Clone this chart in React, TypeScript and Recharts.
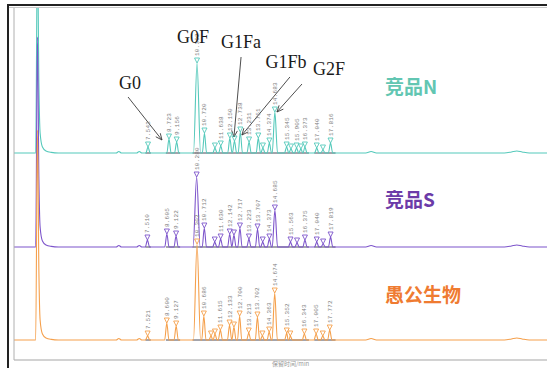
import React from 'react';
import { LineChart, Line, XAxis, YAxis, ReferenceLine, ReferenceDot } from 'recharts';

// retention times (min), peak heights above each trace's own baseline, printed labels
const nPeakT = [7.543, 8.723, 9.156, 10.302, 10.72, 11.31, 11.638, 12.15, 12.41, 12.738, 13.231, 13.751, 14.01, 14.374, 14.683, 15.345, 15.59, 15.905, 16.15, 16.373, 17.04, 17.39, 17.816];
const nPeakH = [6, 14, 11, 90, 20, 5, 7, 15, 12, 21, 11, 15, 5, 10, 41, 6, 4, 5, 4, 6, 5, 3, 10];
const nPeakL = ['7.543', '8.723', '9.156', '10.302', '10.720', '', '11.638', '12.150', '', '12.738', '13.231', '13.751', '', '14.374', '14.683', '15.345', '', '15.905', '', '16.373', '17.040', '', '17.816'];

const sPeakT = [7.51, 8.605, 9.122, 10.28, 10.712, 11.3, 11.63, 12.142, 12.38, 12.717, 13.223, 13.707, 14.0, 14.373, 14.685, 15.563, 15.93, 16.375, 17.04, 17.4, 17.819];
const sPeakH = [7, 13, 11, 70, 19, 5, 8, 13, 12, 19, 8, 18, 5, 8, 37, 5, 4, 7, 5, 3, 10];
const sPeakL = ['7.510', '8.605', '9.122', '10.280', '10.712', '', '11.630', '12.142', '', '12.717', '13.223', '13.707', '', '14.373', '14.685', '15.563', '', '16.375', '17.040', '', '17.819'];

const yPeakT = [7.521, 8.6, 9.127, 10.302, 10.686, 11.09, 11.31, 11.615, 12.133, 12.38, 12.7, 13.213, 13.702, 13.98, 14.363, 14.674, 15.352, 15.55, 16.343, 17.005, 17.38, 17.772];
const yPeakH = [4, 17, 14, 96, 24, 4, 6, 10, 15, 13, 24, 7, 23, 4, 8, 47, 7, 4, 6, 6, 4, 10];
const yPeakL = ['7.521', '8.600', '9.127', '10.302', '10.686', '', '', '11.615', '12.133', '', '12.700', '13.213', '13.702', '', '14.363', '14.674', '15.352', '', '16.343', '17.005', '', '17.772'];

// solvent front and small baseline bumps, shared by the three runs
const solventT = [1.22, 1.32, 1.4, 1.47, 1.6, 1.8, 2.1, 2.5];
const solventV = [0, 210, 70, 20, 6, 2, 0.6, 0];
const bumpT = [0, 5.75, 5.9, 6.05, 6.9, 7.05, 7.2, 19.8, 20.1, 20.4, 27.6, 28.0, 28.3, 28.6, 29.0, 30];
const bumpV = [0, 0, 1.5, 0, 0, 1.5, 0, 0, 1.5, 0, 0, 1, 2, 1, 0, 0];

// integration baselines drawn by the software
const integT = [[7.4, 7.7], [8.55, 9.35], [10.05, 16.6], [16.9, 18.1]];

const xTicks = [0, 1, 2, 3, 4, 5, 6, 7, 8, 9, 10, 11, 12, 13, 14, 15, 16, 17, 18, 19, 20, 21, 22, 23, 24, 25, 26, 27, 28, 29, 30];
const yTicks = [17, 38, 60, 81, 103, 124, 146, 167, 189, 210, 232, 253, 275, 296, 318, 339];

// stacking offsets of the three runs
const OFF_N = 207;
const OFF_S = 113;
const OFF_Y = 20;

const annoText = ['G0', 'G0F', 'G1Fa', 'G1Fb', 'G2F'];
const annoTextPos = [[6.53, 271], [10.07, 317], [12.78, 312], [15.31, 292], [17.73, 285]];
const arrowFrom = [[6.42, 263], [12.78, 303], [15.53, 283], [16.21, 276]];
const arrowTo = [[8.33, 220], [12.38, 223], [12.83, 225], [14.8, 248]];

const teal = '#55c9bb';
const purple = '#7d55cb';
const orange = '#f5a04c';

function buildTrace(peakT: number[], peakH: number[], peakL: string[], off: number) {
  const pts: any[] = [];
  solventT.forEach((t, i) => pts.push({ t, v: off + solventV[i] }));
  bumpT.forEach((t, i) => pts.push({ t, v: off + bumpV[i] }));
  peakT.forEach((t, i) => {
    const h = peakH[i];
    const hw = h > 60 ? 0.2 : h > 30 ? 0.15 : 0.12;
    pts.push({ t: t - hw, v: off });
    pts.push({ t, v: off + h, peak: true, label: peakL[i] });
    pts.push({ t: t + hw, v: off });
  });
  return pts.sort((a, b) => a.t - b.t);
}

const nData = buildTrace(nPeakT, nPeakH, nPeakL, OFF_N);
const sData = buildTrace(sPeakT, sPeakH, sPeakL, OFF_S);
const yData = buildTrace(yPeakT, yPeakH, yPeakL, OFF_Y);

const peakDot = (color: string) => (p: any) => {
  const { cx, cy, payload, index } = p;
  if (!payload || !payload.peak) return <g key={'d' + index} />;
  return (
    <g key={'d' + index}>
      <path d={`M${cx - 2.5},${cy - 5} L${cx + 2.5},${cy - 5} L${cx},${cy} Z`} fill="#fff" fillOpacity={0} stroke={color} strokeWidth={0.9} />
      {payload.label ? (
        <text transform={`translate(${cx + 2},${cy - 7}) rotate(-90)`} fontSize={6} fill="#808080" fontFamily="Liberation Mono, monospace" letterSpacing={0.2}>
          {payload.label}
        </text>
      ) : null}
    </g>
  );
};

const ArrowShape = (p: any) => {
  const { x1, y1, x2, y2 } = p;
  const a = Math.atan2(y2 - y1, x2 - x1);
  const L = 7;
  const s = 0.42;
  const ax = x2 - L * Math.cos(a - s);
  const ay = y2 - L * Math.sin(a - s);
  const bx = x2 - L * Math.cos(a + s);
  const by = y2 - L * Math.sin(a + s);
  return (
    <g>
      <line x1={x1} y1={y1} x2={x2} y2={y2} stroke="#3a3a3a" strokeWidth={0.9} />
      <polyline points={`${ax},${ay} ${x2},${y2} ${bx},${by}`} fill="none" stroke="#3a3a3a" strokeWidth={0.9} />
    </g>
  );
};

const seriesNames = [
  { text: '竞品N', v: 266, color: '#62c6b2' },
  { text: '竞品S', v: 153, color: '#6c3ba8' },
  { text: '愚公生物', v: 58, color: '#ef7b31' },
];

export default function App() {
  return (
    <div style={{ position: 'fixed', left: 0, top: 0, width: 547, height: 368, overflow: 'hidden', background: '#fff' }}>
      <LineChart width={547} height={390} margin={{ top: 8, right: 0, bottom: 0, left: 0 }}>
        <XAxis
          dataKey="t"
          type="number"
          domain={[0, 30]}
          ticks={xTicks}
          allowDataOverflow
          height={30}
          tick={false}
          tickSize={3}
          axisLine={{ stroke: '#a5a5a5' }}
          tickLine={{ stroke: '#8a8a8a' }}
        />
        <YAxis
          type="number"
          domain={[0, 352]}
          ticks={yTicks}
          allowDataOverflow
          width={14}
          tick={false}
          tickSize={4}
          axisLine={{ stroke: '#b0b0b0' }}
          tickLine={{ stroke: '#777' }}
        />
        {[OFF_N, OFF_S, OFF_Y].map((off) =>
          integT.map((seg, i) => (
            <ReferenceLine
              key={`i${off}-${i}`}
              segment={[{ x: seg[0], y: off }, { x: seg[1], y: off }]}
              stroke="#4a4a58"
              strokeWidth={1}
            />
          ))
        )}
        <Line data={nData} dataKey="v" type="monotone" stroke={teal} strokeWidth={1.1} dot={peakDot(teal)} activeDot={false} isAnimationActive={false} />
        <Line data={sData} dataKey="v" type="monotone" stroke={purple} strokeWidth={1.1} dot={peakDot(purple)} activeDot={false} isAnimationActive={false} />
        <Line data={yData} dataKey="v" type="monotone" stroke={orange} strokeWidth={1.1} dot={peakDot(orange)} activeDot={false} isAnimationActive={false} />
        {arrowFrom.map((f, i) => (
          <ReferenceLine
            key={'a' + i}
            segment={[{ x: f[0], y: f[1] }, { x: arrowTo[i][0], y: arrowTo[i][1] }]}
            shape={ArrowShape}
          />
        ))}
        {annoText.map((txt, i) => (
          <ReferenceDot
            key={'t' + i}
            x={annoTextPos[i][0]}
            y={annoTextPos[i][1]}
            r={0}
            shape={(p: any) => (
              <text x={p.cx} y={p.cy} textAnchor="middle" fontSize={18} fontFamily="Liberation Serif, serif" fill="#1a1a1a">
                {txt}
              </text>
            )}
          />
        ))}
        {seriesNames.map((s, i) => (
          <ReferenceDot
            key={'n' + i}
            x={20.88}
            y={s.v}
            r={0}
            shape={(p: any) => (
              <text x={p.cx} y={p.cy} fontSize={19} fontWeight={700} fontFamily="Noto Sans CJK SC, sans-serif" fill={s.color}>
                {s.text}
              </text>
            )}
          />
        ))}
      </LineChart>
      <div style={{ position: 'absolute', left: 272, top: 360, fontSize: 6, lineHeight: '7px', color: '#999', fontFamily: 'Noto Sans CJK SC, sans-serif', whiteSpace: 'nowrap' }}>
        保留时间/min
      </div>
      <div style={{ position: 'absolute', left: 8, top: 4, width: 539, height: 2, background: '#222' }} />
      <div style={{ position: 'absolute', left: 8, top: 7, width: 539, height: 1, background: '#c8c8c8' }} />
      <div style={{ position: 'absolute', left: 7, top: 4, width: 2, height: 364, background: '#222' }} />
    </div>
  );
}
